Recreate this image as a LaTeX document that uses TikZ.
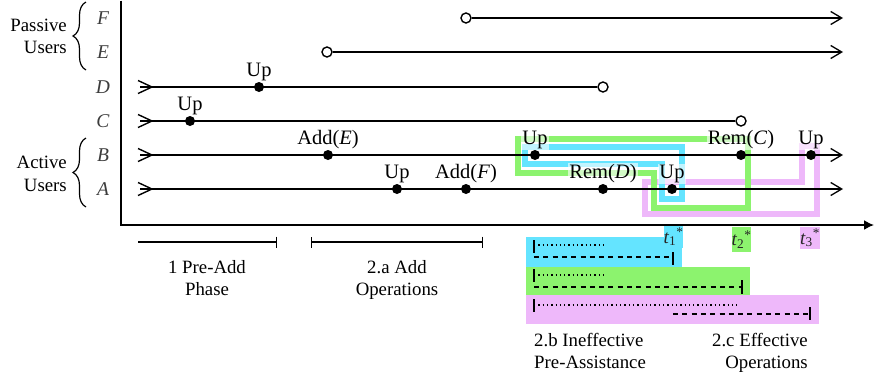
\documentclass[tikz,border=0pt]{standalone}
\usepackage{fontspec}
\setmainfont{Liberation Serif}
\usetikzlibrary{arrows.meta,decorations.pathreplacing}
\definecolor{hlcyan}{RGB}{100,228,255}
\definecolor{hlgreen}{RGB}{140,243,110}
\definecolor{hlpink}{RGB}{238,184,250}
\definecolor{lettergray}{RGB}{60,60,60}
\begin{document}
\begin{tikzpicture}[x=1pt,y=-1pt,
  every node/.style={font=\fontsize{18.8}{22.5}\selectfont},
  rowline/.style={line width=1.4pt, black},
  tipend/.style={-{Straight Barb[length=11pt,width=13pt,line width=1.3pt]}},
  dot/.style={circle, fill=black, inner sep=0pt, minimum size=10pt},
  opencirc/.style={circle, draw=black, line width=1.4pt, fill=white, inner sep=0pt, minimum size=10pt},
  evlabel/.style={anchor=south, inner sep=1pt, fill=white, fill opacity=0.6, text opacity=1, font=\fontsize{20.5}{24}\selectfont},
  letter/.style={font=\fontsize{19.5}{22.5}\selectfont\itshape, text=lettergray, anchor=base, inner sep=0pt},
  hloop/.style={line width=6pt, line join=miter},
  startmark/.pic={\draw[rowline] (-2,-6.5) -- (12,0) -- (-2,6.5);},
  bracestyle/.style={line width=1.2pt, decorate, decoration={brace, amplitude=13pt}},
  phasebar/.style={line width=1.4pt},
  dotline/.style={line width=1.4pt, dash pattern=on 1.3pt off 3pt},
  dashline/.style={line width=1.5pt, dash pattern=on 5pt off 4.3pt},
  endbar/.style={line width=1.8pt},
  tlab/.style={inner sep=0pt, minimum width=17pt, font=\fontsize{19}{19}\selectfont, text=black!85},
  desc/.style={inner sep=0pt}
]
\useasboundingbox (0,0) rectangle (876,381);

% ---------- highlight loops ----------
\draw[hloop, hlpink] (802,146) -- (817,146) -- (817,214) -- (645,214) -- (645,182) -- (802,182) -- cycle;
\draw[hloop, hlgreen] (518,139) -- (748,139) -- (748,208) -- (654,208) -- (654,173) -- (518,173) -- cycle;
\draw[hloop, hlcyan] (525,147) -- (682,147) -- (682,199) -- (662,199) -- (662,164) -- (525,164) -- cycle;

% ---------- axes ----------
\coordinate (axtop) at (121,0.5);
\coordinate (axorig) at (121,225);
\coordinate (axright) at (874,225);
\draw[line width=1.6pt, -{Latex[length=10pt,width=10pt]}] (axtop) -- (axorig) -- (axright);

% ---------- row letters ----------
\node[letter] (lF) at (103,24.5) {F};
\node[letter] (lE) at (103,58.5) {E};
\node[letter] (lD) at (103,93.5) {D};
\node[letter] (lC) at (103,127.5) {C};
\node[letter] (lB) at (103,161.5) {B};
\node[letter] (lA) at (103,195.5) {A};

% ---------- braces and group labels ----------
\coordinate (pb1) at (86,70); \coordinate (pb2) at (86,2);
\coordinate (ab1) at (86,207); \coordinate (ab2) at (86,138);
\draw[bracestyle] (pb1) -- (pb2);
\draw[bracestyle] (ab1) -- (ab2);
\node[desc, anchor=north east, align=right] (passive) at (67,18.5) {Passive\\Users};
\node[desc, anchor=north east, align=right] (active) at (67,156) {Active\\Users};

% ---------- row lines ----------
\coordinate (As) at (140,189); \coordinate (Ae) at (843,189);
\coordinate (Bs) at (140,155); \coordinate (Be) at (843,155);
\coordinate (Cs) at (140,121);
\coordinate (Ds) at (140,87);
\coordinate (Ee) at (843,52);
\coordinate (Fe) at (843,18);
\node[opencirc] (Cend) at (741,121) {};
\node[opencirc] (Dend) at (603,87) {};
\node[opencirc] (Estart) at (327,52) {};
\node[opencirc] (Fstart) at (466,18) {};

\draw[rowline, tipend] (As) -- (Ae);
\draw[rowline, tipend] (Bs) -- (Be);
\draw[rowline] (Cs) -- (Cend);
\draw[rowline] (Ds) -- (Dend);
\draw[rowline, tipend] (Estart) -- (Ee);
\draw[rowline, tipend] (Fstart) -- (Fe);
\pic at (As) {startmark};
\pic at (Bs) {startmark};
\pic at (Cs) {startmark};
\pic at (Ds) {startmark};

% ---------- events ----------
\node[dot] (d1) at (259,87) {};
\node[dot] (c1) at (190,121) {};
\node[dot] (b1) at (328,155) {};
\node[dot] (b2) at (535,155) {};
\node[dot] (b3) at (741,155) {};
\node[dot] (b4) at (811,155) {};
\node[dot] (a1) at (397,189) {};
\node[dot] (a2) at (466,189) {};
\node[dot] (a3) at (603,189) {};
\node[dot] (a4) at (672,189) {};

\node[evlabel] (ld1) at (d1.north) {Up};
\node[evlabel] (lc1) at (c1.north) {Up};
\node[evlabel] (lb1) at (b1.north) {Add(\textit{E})};
\node[evlabel] (lb2) at (b2.north) {Up};
\node[evlabel] (lb3) at (b3.north) {Rem(\textit{C})};
\node[evlabel] (lb4) at (b4.north) {Up};
\node[evlabel] (la1) at (a1.north) {Up};
\node[evlabel] (la2) at (a2.north) {Add(\textit{F})};
\node[evlabel] (la3) at (a3.north) {Rem(\textit{D})};
\node[evlabel] (la4) at (a4.north) {Up};

% ---------- phase bars ----------
\coordinate (p1a) at (138,242); \coordinate (p1b) at (277,242);
\coordinate (p2a) at (311,242); \coordinate (p2b) at (483,242);
\draw[phasebar, -{Bar[width=11pt,line width=1.4pt]}] (p1a) -- (p1b);
\draw[phasebar, {Bar[width=11pt,line width=1.4pt]}-{Bar[width=11pt,line width=1.4pt]}] (p2a) -- (p2b);
\node[desc, anchor=north, align=center] (ph1) at (207,260) {1 Pre-Add\\Phase};
\node[desc, anchor=north, align=center] (ph2) at (397,260) {2.a Add\\Operations};

% ---------- highlighted intervals ----------
\fill[hlcyan] (526,237) rectangle (682,267);
\fill[hlgreen] (526,267) rectangle (750,295);
\fill[hlpink] (526,295) rectangle (819,324);
\node[tlab, fill=hlcyan, minimum height=22pt] (t1) at (673.5,237) {\textit{t}\textsubscript{1}\textsuperscript{*}};
\node[tlab, fill=hlgreen, minimum height=25pt] (t2) at (741.5,239.5) {\textit{t}\textsubscript{2}\textsuperscript{*}};
\node[tlab, fill=hlpink, minimum height=22pt] (t3) at (810,238) {\textit{t}\textsubscript{3}\textsuperscript{*}};

% cyan
\coordinate (cs1) at (534,245); \coordinate (ce1) at (603,245);
\coordinate (cs2) at (534,257); \coordinate (ce2) at (673,257);
\draw[dotline] (cs1) -- (ce1);
\draw[dashline] (cs2) -- (ce2);
\draw[endbar] (534,240) -- (534,253);
\draw[endbar] (673,252) -- (673,265);
% green
\coordinate (gs1) at (534,275); \coordinate (ge1) at (603,275);
\coordinate (gs2) at (534,287); \coordinate (ge2) at (742,287);
\draw[dotline] (gs1) -- (ge1);
\draw[dashline] (gs2) -- (ge2);
\draw[endbar] (534,269) -- (534,282);
\draw[endbar] (742,280) -- (742,294);
% pink
\coordinate (ps1) at (534,305); \coordinate (pe1) at (738,305);
\coordinate (ps2) at (673,314); \coordinate (pe2) at (810,314);
\draw[dotline] (ps1) -- (pe1);
\draw[dashline] (ps2) -- (pe2);
\draw[endbar] (534,299) -- (534,312);
\draw[endbar] (810,307) -- (810,320);

\node[desc, anchor=north west, align=left] (ineff) at (534,333) {2.b Ineffective\\Pre-Assistance};
\node[desc, anchor=north east, align=right] (eff) at (808,333) {2.c Effective\\Operations};
\end{tikzpicture}
\end{document}
